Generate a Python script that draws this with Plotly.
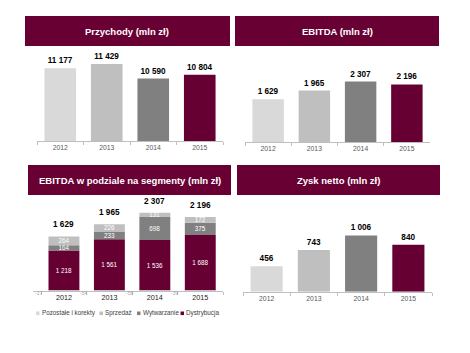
import plotly.graph_objects as go

# ---------------- data ----------------
years = ["2012", "2013", "2014", "2015"]
revenue = [11177, 11429, 10590, 10804]
ebitda = [1629, 1965, 2307, 2196]
net_profit = [456, 743, 1006, 840]
seg_distribution = [1218, 1561, 1536, 1688]
seg_generation = [164, 233, 698, 375]
seg_sales = [264, 226, 131, 172]
seg_other = [-17, -54, -58, -39]
seg_names = ["Pozostałe i korekty", "Sprzedaż", "Wytwarzanie", "Dystrybucja"]
titles = ["Przychody (mln zł)", "EBITDA (mln zł)",
          "EBITDA w podziale na segmenty (mln zł)", "Zysk netto (mln zł)"]

# ---------------- styles ----------------
W, H = 470, 353
MAROON = "#660033"
HEADER = "#680034"
year_colors = ["#d9d9d9", "#bfbfbf", "#808080", MAROON]
seg_colors = {"Pozostałe i korekty": "#d9d9d9", "Sprzedaż": "#bfbfbf",
              "Wytwarzanie": "#808080", "Dystrybucja": MAROON}
FONT = "Liberation Sans, Arial, sans-serif"


def fmt(v):
    return f"{v:,}".replace(",", " ")


def xdom(x0, x1):
    return [x0 / W, x1 / W]


def ydom(top, bottom):
    return [1 - bottom / H, 1 - top / H]


fig = go.Figure()

# simple bar panels
simple = [
    ("x", "y", revenue),
    ("x2", "y2", ebitda),
    ("x4", "y4", net_profit),
]
for xa, ya, vals in simple:
    fig.add_trace(go.Bar(
        x=years, y=vals, xaxis=xa, yaxis=ya,
        marker=dict(color=year_colors, line=dict(width=0)),
        width=0.68,
        text=[fmt(v) for v in vals], textposition="outside",
        textfont=dict(family=FONT, size=8.2, color="#000000", weight="bold"),
        cliponaxis=False, showlegend=False, hoverinfo="skip",
    ))

# stacked segment panel
seg_data = [("Dystrybucja", seg_distribution), ("Wytwarzanie", seg_generation),
            ("Sprzedaż", seg_sales), ("Pozostałe i korekty", seg_other)]
for name, vals in seg_data:
    show_text = name != "Pozostałe i korekty"
    fig.add_trace(go.Bar(
        x=years, y=vals, xaxis="x3", yaxis="y3", name=name,
        marker=dict(color=seg_colors[name], line=dict(width=0)),
        width=0.68,
        text=[fmt(v) for v in vals] if show_text else None,
        textposition="inside" if show_text else "none",
        insidetextanchor="middle",
        textfont=dict(family=FONT, size=6.3, color="#ffffff"),
        showlegend=False, hoverinfo="skip",
    ))

annotations = []
shapes = []

# totals above stacked bars
for i, yr in enumerate(years):
    pos_sum = seg_distribution[i] + seg_generation[i] + seg_sales[i]
    annotations.append(dict(
        x=i, y=pos_sum, xref="x3", yref="y3", text=fmt(ebitda[i]),
        showarrow=False, yanchor="bottom", yshift=5,
        font=dict(family=FONT, size=8.2, color="#000000", weight="bold")))
    annotations.append(dict(
        x=i - 0.56, y=0, xref="x3", yref="y3", text=fmt(seg_other[i]),
        showarrow=False, yanchor="middle", yshift=-2,
        font=dict(family=FONT, size=5, color="#a6a6a6")))

# headers
headers = [(25, 230, 16, 46), (235, 439, 16, 46), (28, 231, 165, 195), (237, 440, 165, 195)]
for (x0, x1, y0, y1), t in zip(headers, titles):
    shapes.append(dict(type="rect", xref="paper", yref="paper",
                       x0=x0 / W, x1=x1 / W, y0=1 - y1 / H, y1=1 - y0 / H,
                       fillcolor=HEADER, line=dict(width=0), layer="below"))
    annotations.append(dict(
        x=(x0 + x1) / 2 / W, y=1 - (y0 + y1) / 2 / H, xref="paper", yref="paper",
        text=t, showarrow=False, xanchor="center", yanchor="middle",
        font=dict(family=FONT, size=9.5, color="#ffffff", weight="bold")))

# manual legend
legend_pos = [(36, 39.5), (99.5, 103), (137, 140.5), (180.5, 184)]
ly = 313.3
for (sx, tx), name in zip(legend_pos, seg_names):
    shapes.append(dict(type="rect", xref="paper", yref="paper",
                       x0=sx / W, x1=(sx + 3.5) / W,
                       y0=1 - (ly + 1.8) / H, y1=1 - (ly - 1.8) / H,
                       fillcolor=seg_colors[name], line=dict(width=0)))
    annotations.append(dict(
        x=tx / W, y=1 - ly / H, xref="paper", yref="paper", text=name,
        showarrow=False, xanchor="left", yanchor="middle",
        font=dict(family=FONT, size=6.3, color="#404040")))


def xaxis(dom, anchor, color="#595959", size=6.8):
    return dict(domain=dom, anchor=anchor, type="category",
                tickson="boundaries", ticks="outside", ticklen=3,
                tickcolor="#bfbfbf", tickwidth=1,
                showline=True, linecolor="#bfbfbf", linewidth=1,
                showgrid=False, zeroline=False, fixedrange=True,
                tickfont=dict(family=FONT, size=size, color=color))


def yaxis(dom, anchor, rng):
    return dict(domain=dom, anchor=anchor, range=rng, visible=False,
                showgrid=False, zeroline=False, fixedrange=True)


fig.update_layout(
    width=W, height=H,
    margin=dict(l=0, r=0, t=0, b=0),
    paper_bgcolor="#ffffff", plot_bgcolor="rgba(0,0,0,0)",
    barmode="relative",
    uniformtext=dict(minsize=6, mode="show"),
    xaxis=xaxis(xdom(37, 223), "y"),
    yaxis=yaxis(ydom(50, 141), "x", [7000, 12233]),
    xaxis2=xaxis(xdom(245, 430), "y2"),
    yaxis2=yaxis(ydom(50, 142), "x2", [0, 3513]),
    xaxis3=xaxis(xdom(33, 223), "y3", color="#1a1a1a", size=7.2),
    yaxis3=yaxis(ydom(198, 290.7), "x3", [0, 2813]),
    xaxis4=xaxis(xdom(243, 432), "y4"),
    yaxis4=yaxis(ydom(200, 291.7), "x4", [0, 1638]),
    annotations=annotations,
    shapes=shapes,
    showlegend=False,
)

fig.write_html("out.html")
